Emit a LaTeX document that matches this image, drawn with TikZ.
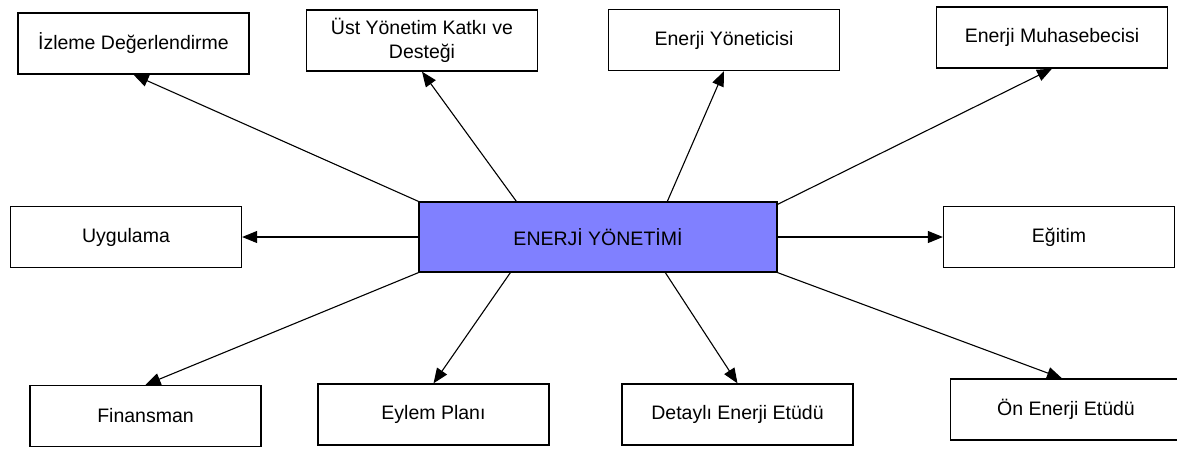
\documentclass[tikz,border=0pt]{standalone}
\usepackage{fontspec}
\setmainfont{Liberation Sans}
\usetikzlibrary{arrows.meta}
\definecolor{centerblue}{RGB}{128,128,255}
\begin{document}
\begin{tikzpicture}[x=1pt,y=-1pt,
  box/.style={draw=black, line width=1.3pt, fill=white, minimum width=231pt, minimum height=61pt, inner sep=0pt, align=center,
    font=\fontsize{19.5}{23.5}\selectfont},
  centerbox/.style={box, fill=centerblue, minimum width=358pt, minimum height=70pt},
  conn/.style={line width=1.1pt, -{Triangle[length=15pt,width=12pt]}}]
\useasboundingbox (0,0) rectangle (1177,448);
% center
\node[centerbox] (c) at (598,237) {ENERJİ YÖNETİMİ};
% top row
\node[box] (izl) at (133.5,43.5) {İzleme Değerlendirme};
\node[box] (ust) at (422,40.5) {Üst Yönetim Katkı ve\\Desteği};
\node[box] (yon) at (724,40) {Enerji Yöneticisi};
\node[box] (muh) at (1052,37.5) {Enerji Muhasebecisi};
% middle row
\node[box] (uyg) at (126,237) {Uygulama};
\node[box] (egt) at (1059,237) {Eğitim};
% bottom row
\node[box] (fin) at (145.5,416) {Finansman};
\node[box] (eyl) at (433.5,414.5) {Eylem Planı};
\node[box] (det) at (737.5,414.5) {Detaylı Enerji Etüdü};
\node[box] (on) at (1066,409.5) {Ön Enerji Etüdü};
% start points on the center box
\coordinate (s1) at (c.north west);
\coordinate (s2) at ([xshift=98pt]c.north west);
\coordinate (s3) at ([xshift=249pt]c.north west);
\coordinate (s4) at ([yshift=-3pt]c.north east);
\coordinate (s7) at (c.south west);
\coordinate (s8) at ([xshift=92pt]c.south west);
\coordinate (s9) at ([xshift=247pt]c.south west);
\coordinate (s10) at (c.south east);
\coordinate (e10) at ([xshift=-4pt]on.north);
% connectors
\draw[conn] (s1) -- (izl.south);
\draw[conn] (s2) -- (ust.south);
\draw[conn] (s3) -- (yon.south);
\draw[conn] (s4) -- (muh.south);
\draw[conn] (c.west) -- (uyg.east);
\draw[conn] (c.east) -- (egt.west);
\draw[conn] (s7) -- (fin.north);
\draw[conn] (s8) -- (eyl.north);
\draw[conn] (s9) -- (det.north);
\draw[conn] (s10) -- (e10);
\end{tikzpicture}
\end{document}
